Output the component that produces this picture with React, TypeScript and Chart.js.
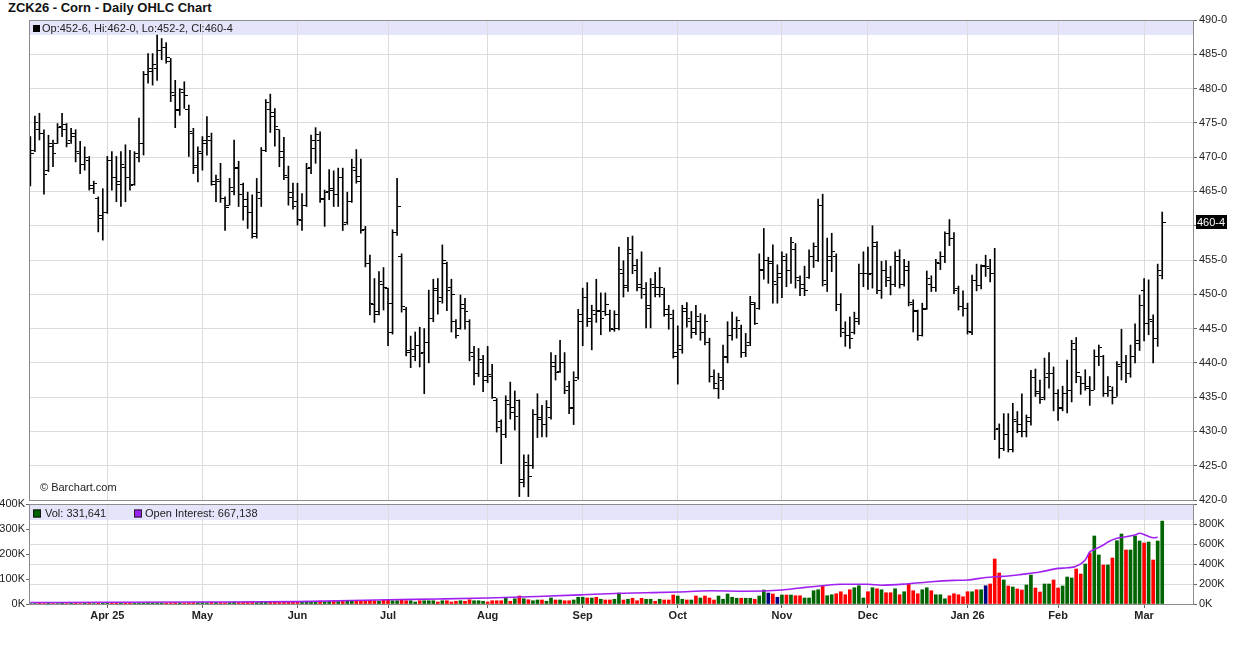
import { useEffect, useRef } from 'react';
import { Chart, registerables } from 'chart.js';

Chart.register(...registerables);

const FONT = '"Liberation Sans", Arial, Helvetica, sans-serif';
const GRID = '#dcdcdc';
const BAND = '#e4e4fa';
const AXIS_TEXT = '#222';

const chartTitle = 'ZCK26 - Corn - Daily OHLC Chart';
const firstSession = '2025-03-07';
const exchangeHolidays = [
  '2025-04-18', '2025-05-26', '2025-06-19', '2025-07-04', '2025-09-01',
  '2025-11-27', '2025-12-25', '2026-01-01', '2026-01-19', '2026-02-16',
];
const monthNames = ['Jan', 'Feb', 'Mar', 'Apr', 'May', 'Jun', 'Jul', 'Aug', 'Sep', 'Oct', 'Nov', 'Dec'];

const opens = [
  468.0, 471.0, 474.0, 473.5, 468.0, 471.5, 472.0, 474.5, 474.0, 472.5,
  473.0, 470.5, 469.0, 469.5, 465.5, 464.0, 461.0, 462.0, 469.5, 467.0,
  466.0, 468.5, 467.0, 466.0, 470.0, 472.0, 482.0, 483.0, 483.0, 485.5,
  486.0, 484.0, 479.0, 477.0, 479.5, 477.0, 473.5, 468.5, 470.5, 472.0,
  472.5, 466.0, 466.5, 464.0, 463.0, 465.0, 468.5, 466.0, 462.8, 462.0,
  458.5, 464.0, 471.0, 477.0, 476.0, 474.0, 470.8, 467.0, 464.1, 463.5,
  460.8, 463.0, 468.5, 471.2, 472.5, 464.0, 465.0, 465.2, 464.5, 467.0,
  460.5, 463.5, 468.0, 467.2, 459.5, 454.5, 448.5, 447.5, 451.5, 450.8,
  444.5, 459.0, 455.5, 447.8, 441.5, 441.0, 442.5, 441.5, 443.0, 446.5,
  450.5, 449.5, 454.5, 451.0, 446.0, 445.0, 448.5, 446.0, 441.0, 438.5,
  440.0, 438.0, 438.0, 434.5, 431.5, 429.5, 434.0, 433.5, 434.5, 422.5,
  425.0, 425.0, 432.5, 432.0, 431.0, 432.0, 439.5, 438.8, 440.0, 436.5,
  433.3, 437.8, 446.0, 449.5, 446.0, 447.0, 447.5,
  447.5, 447.0, 444.8, 447.0, 453.0, 451.0, 456.5, 453.5, 451.5, 450.0,
  448.0, 451.0, 451.0, 450.0, 447.0, 446.5, 441.0, 442.0, 447.5, 446.0,
  445.0, 446.0, 444.5, 443.0, 438.0, 436.3, 437.5, 441.0, 444.0, 445.0,
  445.0, 441.5, 443.0, 448.5, 448.0, 453.5, 455.0, 454.5, 451.5, 453.0,
  455.0, 453.5, 456.5, 452.0, 450.8, 452.5, 455.5, 455.0, 463.0, 451.5,
  455.0, 455.5, 448.5, 444.5, 444.0, 444.5, 446.0, 453.0, 453.0, 453.0,
  457.0, 450.5, 453.5, 452.0, 451.5, 455.0, 451.5, 453.5, 448.5, 447.5,
  444.0, 448.0, 451.5, 451.0, 454.5, 455.5, 458.9, 458.2, 450.8, 448.2,
  448.0, 444.5, 452.0, 451.3, 454.0, 453.8, 453.1,
  430.5, 427.5, 429.5, 427.3, 431.5, 430.0, 430.0, 431.5, 437.9, 435.5,
  435.0, 438.5, 438.5, 435.5, 433.5, 435.5, 436.0, 442.0, 438.0, 437.0,
  436.5, 436.0, 441.0, 441.0, 435.5, 436.0, 435.0, 439.5, 440.0, 438.5,
  441.0, 442.8, 450.5, 445.8, 446.0, 443.5, 452.75,
];

const highs = [
  473.0, 476.0, 476.4, 474.0, 473.2, 472.5, 474.9, 476.4, 474.9, 474.2,
  474.0, 472.3, 471.5, 470.1, 466.5, 464.2, 465.4, 470.1, 470.8, 470.1,
  470.8, 471.8, 471.0, 470.8, 475.7, 482.5, 485.1, 485.1, 487.8, 487.3,
  486.7, 484.4, 481.2, 480.0, 481.0, 477.6, 474.2, 471.5, 473.0, 475.9,
  473.5, 467.4, 469.1, 464.2, 466.9, 472.5, 469.4, 466.2, 464.9, 464.5,
  466.9, 471.4, 478.4, 479.2, 477.1, 474.0, 472.9, 468.7, 466.2, 466.2,
  464.7, 469.1, 473.2, 474.3, 473.7, 465.2, 468.2, 468.0, 468.4, 468.4,
  464.9, 469.7, 471.1, 469.7, 459.9, 455.7, 452.3, 453.3, 453.9, 450.9,
  459.4, 466.9, 455.9, 448.1, 443.9, 444.5, 445.2, 445.0, 450.6, 452.2,
  452.3, 457.2, 454.7, 452.2, 446.3, 449.9, 449.4, 446.3, 442.4, 442.1,
  441.1, 442.4, 439.8, 434.8, 431.7, 435.2, 437.2, 435.9, 434.6, 426.6,
  426.6, 433.2, 435.5, 433.8, 434.5, 441.5, 441.1, 443.3, 441.5, 437.3,
  438.7, 447.8, 450.9, 451.7, 448.4, 452.2, 450.2,
  450.2, 447.7, 447.6, 456.9, 454.9, 458.3, 458.5, 455.1, 456.2, 451.7,
  452.3, 453.2, 453.9, 450.9, 448.4, 447.7, 445.4, 448.4, 448.8, 447.5,
  448.4, 447.2, 447.0, 443.6, 439.0, 438.5, 442.6, 446.0, 447.4, 446.7,
  445.5, 444.3, 449.7, 448.8, 455.9, 459.6, 455.4, 457.2, 454.3, 456.2,
  455.9, 458.3, 457.4, 452.7, 454.1, 456.5, 457.5, 463.9, 464.6, 458.2,
  458.9, 455.9, 450.1, 446.0, 446.7, 447.4, 454.4, 456.2, 456.9, 460.0,
  457.7, 454.8, 454.9, 454.1, 456.2, 456.5, 455.1, 454.8, 449.2, 447.7,
  448.7, 453.4, 452.7, 455.1, 456.2, 459.1, 460.9, 459.0, 451.2, 450.5,
  448.7, 452.8, 454.4, 454.3, 455.7, 455.1, 456.7,
  431.1, 432.6, 432.6, 434.1, 432.9, 435.5, 432.4, 438.9, 439.1, 437.5,
  440.7, 441.5, 439.4, 436.1, 436.6, 440.4, 443.3, 443.7, 438.0, 439.0,
  438.0, 441.9, 442.6, 441.1, 438.0, 436.5, 440.2, 444.9, 441.1, 442.6,
  445.7, 449.9, 452.3, 452.1, 447.0, 454.4, 462.0,
];

const lows = [
  465.8, 470.8, 472.5, 464.6, 467.9, 468.6, 472.0, 473.0, 471.5, 472.0,
  469.3, 467.6, 468.1, 465.2, 464.7, 459.1, 457.9, 461.8, 465.2, 463.5,
  462.8, 463.5, 465.2, 465.9, 469.3, 470.3, 480.8, 480.5, 481.2, 484.2,
  483.7, 478.1, 474.3, 476.1, 477.1, 470.1, 467.6, 466.4, 468.1, 470.3,
  465.9, 463.5, 463.4, 459.3, 463.0, 464.5, 462.8, 460.8, 459.6, 458.2,
  458.2, 462.8, 470.8, 473.6, 471.6, 468.6, 466.7, 463.0, 462.4, 460.1,
  459.3, 462.8, 467.6, 469.1, 463.4, 459.9, 463.8, 462.8, 462.8, 459.3,
  460.2, 463.4, 466.2, 458.9, 454.0, 447.0, 445.9, 447.0, 447.7, 442.5,
  444.2, 458.6, 447.4, 441.0, 439.3, 440.3, 439.4, 435.5, 440.0, 446.0,
  447.1, 448.7, 447.6, 444.5, 443.6, 444.9, 444.9, 440.3, 436.8, 438.0,
  435.8, 437.1, 434.8, 429.9, 425.3, 429.1, 431.8, 430.2, 420.5, 421.9,
  420.5, 424.6, 429.1, 429.2, 429.2, 431.8, 437.5, 438.6, 435.5, 432.6,
  431.0, 437.6, 442.5, 445.3, 441.9, 445.9, 444.1,
  446.9, 444.6, 444.6, 444.8, 449.6, 450.4, 453.0, 450.5, 449.4, 445.1,
  445.1, 449.6, 449.6, 446.8, 444.9, 440.7, 436.9, 441.4, 445.2, 443.6,
  444.1, 443.3, 442.6, 437.2, 436.2, 434.8, 436.1, 440.0, 443.3, 443.6,
  440.8, 440.9, 442.5, 445.6, 447.8, 452.2, 451.6, 448.7, 448.7, 449.5,
  451.1, 451.6, 450.9, 449.8, 449.8, 452.3, 453.9, 454.8, 451.2, 450.4,
  453.3, 447.6, 443.8, 442.4, 442.1, 444.2, 445.6, 451.1, 450.7, 450.9,
  450.1, 449.4, 451.1, 449.9, 451.1, 450.9, 451.2, 448.3, 444.5, 443.3,
  443.9, 447.8, 450.4, 450.4, 453.6, 454.6, 457.1, 450.1, 447.7, 446.8,
  444.2, 444.1, 450.5, 450.8, 452.6, 451.8, 428.8,
  426.1, 427.2, 427.0, 427.0, 429.8, 429.2, 429.2, 430.9, 435.1, 434.1,
  434.6, 436.3, 433.0, 431.6, 433.0, 432.7, 434.3, 437.1, 435.4, 436.0,
  433.8, 436.1, 439.6, 435.1, 435.1, 434.0, 435.1, 437.5, 437.1, 437.9,
  440.0, 441.8, 443.2, 444.1, 440.0, 442.4, 452.25,
];

const closes = [
  470.5, 475.0, 473.5, 467.5, 472.0, 470.5, 474.3, 474.8, 472.0, 473.5,
  470.8, 469.0, 470.0, 465.8, 466.2, 461.5, 462.0, 469.5, 467.0, 466.5,
  469.0, 467.0, 465.8, 470.5, 472.0, 482.0, 482.5, 483.5, 485.5, 486.0,
  484.5, 479.5, 476.8, 479.8, 479.0, 473.8, 468.8, 470.8, 472.5, 473.0,
  466.5, 466.8, 464.0, 462.7, 465.6, 468.4, 464.5, 463.8, 461.9, 458.8,
  464.9, 471.0, 478.0, 476.5, 474.5, 470.0, 467.3, 464.9, 462.8, 460.9,
  463.0, 468.3, 472.5, 473.3, 463.8, 464.8, 465.5, 464.5, 467.0, 460.2,
  463.5, 468.5, 466.5, 459.3, 454.5, 448.6, 447.0, 451.8, 451.0, 448.7,
  459.0, 462.8, 448.2, 441.8, 442.0, 442.5, 441.3, 443.0, 446.5, 450.8,
  449.0, 455.0, 450.5, 450.0, 444.0, 448.0, 447.5, 441.5, 438.5, 440.5,
  437.5, 438.3, 435.0, 430.6, 429.5, 434.5, 432.8, 432.2, 423.0, 425.5,
  423.5, 432.5, 431.8, 431.0, 433.5, 440.0, 438.6, 440.0, 436.0, 433.5,
  437.5, 447.0, 449.5, 446.5, 447.6, 447.6, 446.4,
  448.5, 445.0, 445.0, 453.6, 451.3, 456.0, 454.2, 451.0, 450.8, 448.3,
  451.5, 450.0, 451.0, 447.8, 447.1, 441.5, 442.5, 448.0, 446.5, 444.5,
  446.8, 444.5, 446.0, 438.0, 437.0, 437.8, 440.8, 444.0, 445.0, 446.2,
  441.5, 442.5, 448.8, 445.8, 453.6, 455.0, 454.8, 451.8, 452.5, 455.5,
  453.5, 457.5, 452.5, 451.5, 450.5, 455.5, 457.0, 463.0, 452.0, 455.5,
  456.2, 448.5, 445.0, 444.0, 443.5, 446.5, 453.0, 453.0, 452.9, 457.5,
  450.5, 453.5, 452.5, 451.5, 455.5, 451.5, 454.0, 448.8, 447.7, 444.0,
  447.8, 452.3, 451.0, 454.7, 455.5, 458.9, 458.2, 450.5, 448.2, 448.0,
  444.6, 452.0, 451.3, 454.2, 454.0, 453.0, 430.3,
  427.5, 429.5, 427.3, 431.8, 431.0, 430.0, 432.0, 437.9, 435.8, 434.7,
  437.9, 438.5, 435.6, 433.4, 435.5, 436.0, 442.8, 438.6, 437.0, 436.3,
  436.0, 441.0, 442.2, 435.5, 436.5, 435.0, 439.7, 440.0, 438.5, 441.0,
  443.2, 448.4, 445.8, 446.3, 443.6, 453.4, 460.5,
];

// volume in thousands of contracts
const volumeK = [
  2, 2, 3, 2, 3, 2, 2, 3, 2, 3, 3, 2, 3, 3, 2, 4, 3,
  3, 4, 3, 4, 4, 3, 3, 4, 5, 6, 5, 4, 5, 4, 5, 6, 5, 4, 5, 6, 5,
  6, 5, 7, 6, 6, 5, 7, 8, 6, 7, 8, 7, 6, 9, 8, 7, 8, 7, 9, 8, 7,
  9, 10, 11, 9, 10, 12, 10, 11, 12, 10, 11, 13, 12, 11, 13, 12, 14, 13,
  11, 16, 16, 13, 13, 16, 13, 13, 8, 13,
  13, 13, 13, 8, 13, 13, 8, 11, 13, 11,
  17, 13, 13, 11, 8, 13, 13, 13, 23, 11,
  21, 32, 21, 17, 13, 16, 16, 11, 24, 16,
  16, 13, 13, 16, 27, 27, 24, 24, 27, 19,
  16, 16, 19, 44, 16, 19, 23, 13, 23, 19,
  19, 11, 19, 16, 16, 36, 32, 19, 16, 16,
  32, 24, 32, 24, 16, 32, 19, 40, 27, 23,
  23, 23, 23, 19, 32, 56, 44, 40, 27,
  36, 36, 36, 33, 33, 24, 24, 53, 57, 71,
  33, 37, 41, 49, 37, 57, 65, 73, 24, 49,
  65, 61, 57, 45, 45, 61, 37, 49, 81, 53,
  41, 57, 65, 53, 37, 37, 21, 33, 41, 37,
  29, 49, 49, 57, 57, 73,
  80, 180, 124, 96, 72, 68, 60, 56, 76, 116,
  64, 48, 80, 80, 96, 64, 72, 108, 104, 140,
  120, 160, 204, 272, 196, 156, 156, 184, 253, 280,
  216, 216, 272, 252, 244, 248, 176, 252, 331.641,
];

// G = up day, R = down day, N = unchanged
const volumeTone =
  'GGRRGRGGRG' + 'RRGRGRGGRR' + 'GRRGGGGGGG' + 'RRRGRRRGGG' + 'RGRRGGRRRR' +
  'GGGRRRRRRR' + 'GGGGRGGRGR' + 'GGRRRRR' +
  'GRRGGRRGGR' + 'GGGRGRRRGR' + 'RGGGRRRRGR' + 'GRGRGGRGGR' + 'GRRGGGRGRG' +
  'RRGGRGRRRG' + 'GRGRRRGGRG' + 'RGRRRGGGGG' + 'RGGRGGNRN' +
  'GRGRRGGGGR' + 'GGRRRRGGGR' + 'GRGRRGRGRR' + 'RGGRGGGRRR' + 'RRGRGN' +
  'RRRGRGRRGG' + 'RRGGRRGGGR' + 'RGRGGRGRGG' + 'RGGGRGRGG';

// open interest readings [session number, thousands]
const openInterestK = [
  [0, 15], [17, 17], [38, 20], [59, 24], [79, 42], [90, 50], [101, 60], [112, 75],
  [122, 92], [129, 105], [136, 112], [143, 120], [150, 132], [158, 128], [166, 140],
  [170, 160], [175, 183], [179, 197], [185, 197], [188, 188], [194, 203], [199, 223],
  [204, 236], [207, 240], [211, 265], [213, 273], [216, 280], [219, 296], [223, 320],
  [227, 356], [229, 362], [231, 378], [233, 440], [234, 520], [235, 545], [237, 590],
  [238, 620], [240, 657], [242, 673], [244, 690], [245, 707], [246, 695], [247, 675],
  [248, 662], [249, 667.138],
];

const toneColor: Record<string, string> = { G: '#006400', R: '#ff0000', N: '#000080' };

function tradingDays(start: string, count: number, holidays: string[]) {
  const out: Date[] = [];
  const d = new Date(start + 'T00:00:00Z');
  while (out.length < count) {
    const dow = d.getUTCDay();
    const iso = d.toISOString().slice(0, 10);
    if (dow !== 0 && dow !== 6 && !holidays.includes(iso)) out.push(new Date(d.getTime()));
    d.setUTCDate(d.getUTCDate() + 1);
  }
  return out;
}

function fmtPrice(v: number) {
  const whole = Math.floor(v + 1e-9);
  const eighths = Math.round((v - whole) * 8);
  return `${whole}-${eighths}`;
}

function tickImage(side: 'left' | 'right') {
  const c = document.createElement('canvas');
  c.width = 7;
  c.height = 1;
  const g = c.getContext('2d')!;
  g.fillStyle = '#000';
  if (side === 'left') g.fillRect(0, 0, 3, 1);
  else g.fillRect(4, 0, 3, 1);
  return c;
}

export default function App() {
  const priceRef = useRef<HTMLCanvasElement>(null);
  const volRef = useRef<HTMLCanvasElement>(null);

  useEffect(() => {
    Chart.defaults.font.family = FONT;
    Chart.defaults.font.size = 11;
    Chart.defaults.color = AXIS_TEXT;

    const n = closes.length;
    const last = n - 1;
    const dates = tradingDays(firstSession, n, exchangeHolidays);
    const monthStarts: number[] = [];
    const monthLabels = new Map<number, string>();
    for (let i = 1; i < n; i++) {
      if (dates[i].getUTCMonth() !== dates[i - 1].getUTCMonth()) {
        const m = dates[i].getUTCMonth();
        const yy = String(dates[i].getUTCFullYear()).slice(2);
        const withYear = monthStarts.length === 0 || m === 0;
        monthStarts.push(i);
        monthLabels.set(i, monthNames[m] + (withYear ? ' ' + yy : ''));
      }
    }
    const setMonthTicks = (scale: any) => {
      scale.ticks = monthStarts.map((v) => ({ value: v }));
    };
    const xMin = -0.3;
    const xMax = n + 5.8;

    const priceDecor = {
      id: 'priceDecor',
      beforeDraw(chart: any) {
        const { ctx, chartArea: a } = chart;
        ctx.save();
        ctx.fillStyle = BAND;
        ctx.fillRect(a.left, a.top, a.right - a.left, 15);
        ctx.restore();
      },
      afterDraw(chart: any) {
        const { ctx, chartArea: a } = chart;
        ctx.save();
        ctx.strokeStyle = '#8c8c8c';
        ctx.lineWidth = 1;
        ctx.strokeRect(Math.round(a.left) + 0.5, Math.round(a.top) + 0.5, Math.round(a.right - a.left), Math.round(a.bottom - a.top));
        ctx.font = `11px ${FONT}`;
        ctx.textBaseline = 'middle';
        ctx.textAlign = 'left';
        ctx.fillStyle = '#000';
        ctx.fillRect(a.left + 4, a.top + 5, 7, 7);
        ctx.fillStyle = AXIS_TEXT;
        ctx.fillText(
          `Op:${fmtPrice(opens[last])}, Hi:${fmtPrice(highs[last])}, Lo:${fmtPrice(lows[last])}, Cl:${fmtPrice(closes[last])}`,
          a.left + 13, a.top + 8.5
        );
        ctx.fillText('\u00A9 Barchart.com', a.left + 11, a.bottom - 12);
        const py = Math.round(chart.scales.y.getPixelForValue(closes[last]));
        ctx.fillStyle = '#000';
        ctx.fillRect(a.right + 3, py - 7, 31, 14);
        ctx.fillStyle = '#fff';
        ctx.fillText(fmtPrice(closes[last]), a.right + 4, py + 0.5);
        ctx.restore();
      },
    };

    const volDecor = {
      id: 'volDecor',
      beforeDraw(chart: any) {
        const { ctx, chartArea: a } = chart;
        ctx.save();
        ctx.fillStyle = BAND;
        ctx.fillRect(a.left, a.top + 1, a.right - a.left, 15);
        ctx.restore();
      },
      afterDraw(chart: any) {
        const { ctx, chartArea: a } = chart;
        ctx.save();
        ctx.strokeStyle = '#8c8c8c';
        ctx.lineWidth = 1;
        ctx.strokeRect(Math.round(a.left) + 0.5, Math.round(a.top) + 0.5, Math.round(a.right - a.left), Math.round(a.bottom - a.top));
        ctx.font = `11px ${FONT}`;
        ctx.textBaseline = 'middle';
        ctx.textAlign = 'left';
        const ty = a.top + 9;
        ctx.fillStyle = '#006400';
        ctx.fillRect(a.left + 4, ty - 3.5, 8, 8);
        ctx.strokeStyle = '#111';
        ctx.strokeRect(a.left + 4.5, ty - 3, 7, 7);
        ctx.fillStyle = AXIS_TEXT;
        const volText = `Vol: ${Math.round(volumeK[last] * 1000).toLocaleString('en-US')}`;
        ctx.fillText(volText, a.left + 16, ty + 0.5);
        const px = Math.round(a.left + 16 + ctx.measureText(volText).width + 28);
        ctx.fillStyle = '#9b20f2';
        ctx.fillRect(px, ty - 3.5, 8, 8);
        ctx.strokeStyle = '#222';
        ctx.strokeRect(px + 0.5, ty - 3, 7, 7);
        ctx.fillStyle = AXIS_TEXT;
        const oiLast = openInterestK[openInterestK.length - 1][1];
        ctx.fillText(`Open Interest: ${Math.round(oiLast * 1000).toLocaleString('en-US')}`, px + 11, ty + 0.5);
        ctx.restore();
      },
    };

    const priceChart = new Chart(priceRef.current!, {
      type: 'bar',
      data: {
        datasets: [
          {
            type: 'bar',
            data: highs.map((h, i) => ({ x: i, y: [lows[i], h] })) as any,
            backgroundColor: '#000',
            borderWidth: 0,
            barThickness: 1,
          } as any,
          {
            type: 'scatter',
            data: opens.map((o, i) => ({ x: i, y: o })),
            pointStyle: tickImage('left'),
            pointRadius: 2,
          } as any,
          {
            type: 'scatter',
            data: closes.map((c, i) => ({ x: i, y: c })),
            pointStyle: tickImage('right'),
            pointRadius: 2,
          } as any,
        ],
      },
      options: {
        animation: false,
        responsive: false,
        devicePixelRatio: 1,
        events: [],
        layout: { padding: { left: 29, top: 20, right: 0, bottom: 0 } },
        plugins: { legend: { display: false }, tooltip: { enabled: false } },
        scales: {
          x: {
            type: 'linear',
            min: xMin,
            max: xMax,
            offset: false,
            afterBuildTicks: setMonthTicks,
            afterFit: (s: any) => { s.height = 12; },
            ticks: { display: false, autoSkip: false },
            grid: { color: GRID, drawTicks: false, offset: false },
            border: { display: false },
          },
          y: {
            type: 'linear',
            position: 'right',
            min: 420,
            max: 490,
            afterFit: (s: any) => { s.width = 43; },
            ticks: { stepSize: 5, callback: (v: any) => fmtPrice(Number(v)), padding: 2, color: AXIS_TEXT, font: { size: 11 } },
            grid: { color: GRID, tickColor: '#666', tickLength: 4 },
            border: { display: false },
          },
        },
      } as any,
      plugins: [priceDecor],
    });

    const volChart = new Chart(volRef.current!, {
      type: 'bar',
      data: {
        datasets: [
          {
            type: 'line',
            yAxisID: 'oi',
            data: openInterestK.map(([i, v]) => ({ x: i, y: v * 1000 })),
            borderColor: '#a020f0',
            borderWidth: 1.6,
            pointRadius: 0,
            cubicInterpolationMode: 'monotone',
            order: 0,
          } as any,
          {
            type: 'bar',
            yAxisID: 'vol',
            data: volumeK.map((v, i) => ({ x: i, y: v * 1000 })),
            backgroundColor: volumeK.map((_, i) => toneColor[volumeTone[i]] || '#006400'),
            borderWidth: 0,
            barThickness: 3,
            order: 1,
          } as any,
        ],
      },
      options: {
        animation: false,
        responsive: false,
        devicePixelRatio: 1,
        events: [],
        layout: { padding: { left: 0, top: 14, right: 0, bottom: 0 } },
        plugins: { legend: { display: false }, tooltip: { enabled: false } },
        scales: {
          x: {
            type: 'linear',
            min: xMin,
            max: xMax,
            offset: false,
            afterBuildTicks: setMonthTicks,
            afterFit: (s: any) => { s.height = 41; },
            ticks: {
              autoSkip: false,
              maxRotation: 0,
              padding: 1,
              color: AXIS_TEXT,
              font: { size: 11, weight: 'bold' },
              callback: (v: any) => monthLabels.get(Number(v)) ?? '',
            },
            grid: { color: GRID, tickColor: '#666', tickLength: 4, offset: false },
            border: { display: false },
          },
          vol: {
            type: 'linear',
            position: 'left',
            min: 0,
            max: 400000,
            afterFit: (s: any) => { s.width = 29; },
            ticks: { stepSize: 100000, padding: 1, color: AXIS_TEXT, font: { size: 11 }, callback: (v: any) => `${Number(v) / 1000}K` },
            grid: { drawOnChartArea: false, tickColor: '#666', tickLength: 3 },
            border: { display: false },
          },
          oi: {
            type: 'linear',
            position: 'right',
            min: 0,
            max: 1000000,
            afterFit: (s: any) => { s.width = 43; },
            ticks: {
              stepSize: 200000,
              padding: 2,
              color: AXIS_TEXT,
              font: { size: 11 },
              callback: (v: any) => (Number(v) >= 1000000 ? '' : `${Number(v) / 1000}K`),
            },
            grid: { color: GRID, tickColor: '#666', tickLength: 4 },
            border: { display: false },
          },
        },
      } as any,
      plugins: [volDecor],
    });

    return () => {
      priceChart.destroy();
      volChart.destroy();
    };
  }, []);

  return (
    <div style={{ position: 'absolute', left: 0, top: 0, width: 1236, height: 645, background: '#fff', overflow: 'hidden' }}>
      <div
        style={{
          position: 'absolute', left: 8, top: 0, fontFamily: FONT, fontWeight: 'bold', fontSize: 13,
          lineHeight: '16px', color: '#111', whiteSpace: 'nowrap',
        }}
      >
        {chartTitle}
      </div>
      <canvas ref={priceRef} width={1236} height={512} style={{ position: 'absolute', left: 0, top: 0 }} />
      <canvas ref={volRef} width={1236} height={155} style={{ position: 'absolute', left: 0, top: 490 }} />
    </div>
  );
}
